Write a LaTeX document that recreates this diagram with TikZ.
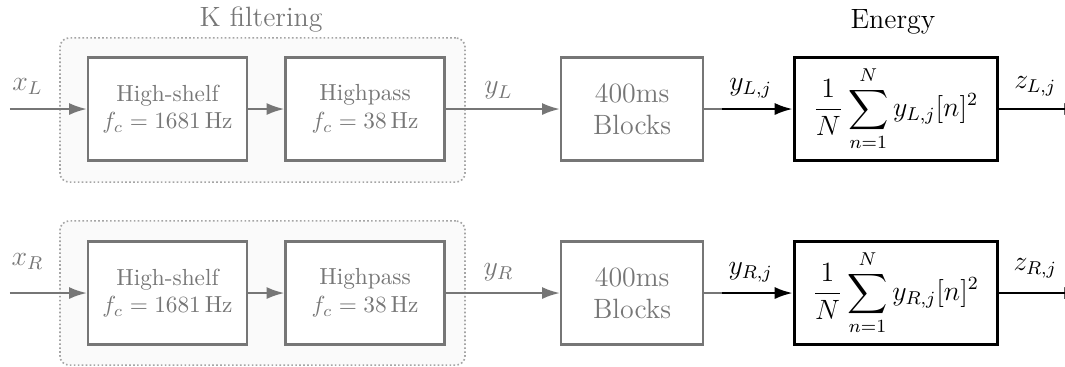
\documentclass[tikz,border=0pt]{standalone}
\usepackage{amsmath,amssymb}
\usepackage{xcolor,tikz}
\usetikzlibrary{arrows.meta,positioning}
\definecolor{kgray}{RGB}{118,118,118}
\definecolor{kdot}{RGB}{165,165,165}
\definecolor{kfill}{RGB}{250,250,250}

\begin{document}
\begin{tikzpicture}[x=1cm,y=1cm,>={Latex[length=7.7pt,width=5.2pt]},
  kbox/.style={draw=kdot,densely dotted,line width=.7pt,fill=kfill,rounded corners=4pt,minimum width=6.12cm,minimum height=2.18cm},
  filt/.style={draw=kgray,line width=1pt,fill=white,text=kgray,align=center,minimum width=2.40cm,minimum height=1.556cm},
  blk/.style={filt,font=\large,minimum width=2.146cm},
  en/.style={draw,line width=1.3pt,fill=white,font=\large,minimum width=3.067cm,minimum height=1.556cm},
  gl/.style={color=kgray,line width=1pt},
  bl/.style={color=black,line width=1pt},
  sig/.style={font=\large,anchor=base}]
  \useasboundingbox (0,0) rectangle (16.09,5.53);
  % left channel
  \node[kbox] (kL) at (3.966,3.868) {};
  \node[font=\large,text=kgray,anchor=base] (kLab) at (3.944,5.137) {K filtering};
  \node[filt] (hsL) at (2.531,3.883) {High-shelf\\$f_c = 1681\,\mathrm{Hz}$};
  \node[filt] (hpL) at (5.515,3.883) {Highpass\\$f_c = 38\,\mathrm{Hz}$};
  \node[blk] (blkL) at (9.550,3.883) {400ms\\Blocks};
  \node[en] (enL) at (13.531,3.883) {$\displaystyle\frac{1}{N}\sum_{n=1}^{N} y_{L,j}[n]^2$};
  \node[font=\large,anchor=base] (enLab) at (13.49,5.107) {Energy};
  \coordinate (inL) at (0.151,3.883);
  \coordinate (jL) at (10.91,3.883);
  \coordinate (outL) at (16.35,3.883);
  \draw[->,gl] (inL) -- (hsL);
  \draw[->,gl] (hsL) -- (hpL);
  \draw[->,gl] (hpL) -- (blkL);
  \draw[gl] (blkL) -- (jL);
  \draw[->,bl] (jL) -- (enL);
  \draw[->,bl] (enL) -- (outL);
  \node[sig,text=kgray] (xL) at (0.416,4.170) {$x_L$};
  \node[sig,text=kgray] (yL) at (7.53,4.110) {$y_L$};
  \node[sig] (yLj) at (11.34,4.170) {$y_{L,j}$};
  \node[sig] (zLj) at (15.64,4.190) {$z_{L,j}$};
  % right channel
  \node[kbox] (kR) at (3.966,1.103) {};
  \node[filt] (hsR) at (2.531,1.103) {High-shelf\\$f_c = 1681\,\mathrm{Hz}$};
  \node[filt] (hpR) at (5.515,1.103) {Highpass\\$f_c = 38\,\mathrm{Hz}$};
  \node[blk] (blkR) at (9.550,1.103) {400ms\\Blocks};
  \node[en] (enR) at (13.531,1.103) {$\displaystyle\frac{1}{N}\sum_{n=1}^{N} y_{R,j}[n]^2$};
  \coordinate (inR) at (0.151,1.103);
  \coordinate (jR) at (10.91,1.103);
  \coordinate (outR) at (16.35,1.103);
  \draw[->,gl] (inR) -- (hsR);
  \draw[->,gl] (hsR) -- (hpR);
  \draw[->,gl] (hpR) -- (blkR);
  \draw[gl] (blkR) -- (jR);
  \draw[->,bl] (jR) -- (enR);
  \draw[->,bl] (enR) -- (outR);
  \node[sig,text=kgray] (xR) at (0.416,1.526) {$x_R$};
  \node[sig,text=kgray] (yR) at (7.53,1.375) {$y_R$};
  \node[sig] (yRj) at (11.34,1.390) {$y_{R,j}$};
  \node[sig] (zRj) at (15.64,1.450) {$z_{R,j}$};
\end{tikzpicture}
\end{document}
